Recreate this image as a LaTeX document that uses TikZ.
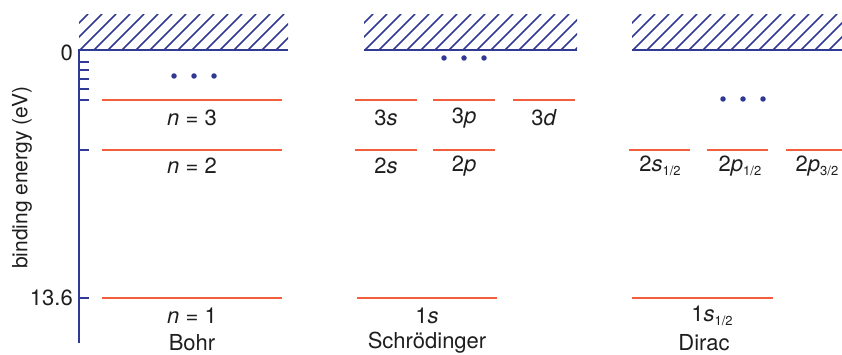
\documentclass[tikz,border=0pt]{standalone}
\usepackage{fontspec}
\setmainfont{TeX Gyre Heros}
\definecolor{axisblue}{RGB}{48,58,148}
\definecolor{levelred}{RGB}{242,94,60}
\definecolor{txt}{RGB}{30,30,30}
\newcommand\halfsub{\raisebox{-0.4ex}{\fontsize{13}{13}\selectfont 1/2}}
\newcommand\thrhalfsub{\raisebox{-0.4ex}{\fontsize{13}{13}\selectfont 3/2}}
\tikzset{
  axisline/.style={draw=axisblue, line width=2pt},
  hatchline/.style={draw=axisblue, line width=1.6pt},
  level/.style={draw=levelred, line width=2.4pt},
  lab/.style={text=txt, inner sep=0pt, font=\fontsize{22}{26}\selectfont},
  dotmark/.style={circle, fill=axisblue, inner sep=0pt, minimum size=5.5pt},
}
\begin{document}
\begin{tikzpicture}[x=1pt,y=-1pt]
\useasboundingbox (0,0) rectangle (842,355);

% hatched continua
\foreach \xa/\xb in {79/288, 364/577, 632/842}{
  \begin{scope}
    \clip (\xa,15) rectangle (\xb,50);
    \foreach \i in {-3,...,16}{
      \draw[hatchline] (\xa+\i*14,51) -- ++(37,-37);
    }
  \end{scope}
  \draw[axisline] (\xa,50) -- (\xb,50);
}

% axis
\coordinate (atop) at (79,49);
\coordinate (abot) at (79,343);
\draw[axisline] (atop) -- (abot);
\foreach \yy in {62,70,79,89,100,150,298}{
  \draw[axisline] (79,\yy) -- (89,\yy);
}
\node[lab, anchor=east] (zero) at (73,53) {0};
\node[lab, anchor=east] (e136) at (73,298) {13.6};
\node[lab, rotate=90, font=\fontsize{21}{24}\selectfont] (ylab) at (22,178) {binding energy (eV)};

% Bohr
\draw[level] (102,100) -- (282,100);
\draw[level] (102,150) -- (282,150);
\draw[level] (102,298) -- (282,298);
\node[dotmark] (bd1) at (174,76) {};
\node[dotmark] (bd2) at (194,76) {};
\node[dotmark] (bd3) at (214,76) {};
\node[lab] (bn3) at (192,118) {\textit{n} = 3};
\node[lab] (bn2) at (192,166) {\textit{n} = 2};
\node[lab] (bn1) at (192,316) {\textit{n} = 1};
\node[lab] (bohr) at (192,343) {Bohr};

% Schroedinger
\draw[level] (355,100) -- (417,100);
\draw[level] (433,100) -- (495,100);
\draw[level] (513,100) -- (575,100);
\draw[level] (355,150) -- (417,150);
\draw[level] (433,150) -- (495,150);
\draw[level] (357,298) -- (497,298);
\node[dotmark] (sd1) at (444,58) {};
\node[dotmark] (sd2) at (464,58) {};
\node[dotmark] (sd3) at (484,58) {};
\node[lab] (s3s) at (386,118) {3\textit{s}};
\node[lab] (s3p) at (464,118) {3\textit{p}};
\node[lab] (s3d) at (544,118) {3\textit{d}};
\node[lab] (s2s) at (386,166) {2\textit{s}};
\node[lab] (s2p) at (464,166) {2\textit{p}};
\node[lab] (s1s) at (427,316) {1\textit{s}};
\node[lab] (schr) at (427,343) {Schrödinger};

% Dirac
\draw[level] (629,150) -- (690,150);
\draw[level] (707,150) -- (768,150);
\draw[level] (786,150) -- (842,150);
\draw[level] (632,298) -- (773,298);
\node[dotmark] (dd1) at (723,99) {};
\node[dotmark] (dd2) at (743,99) {};
\node[dotmark] (dd3) at (763,99) {};
\node[lab] (d2s) at (660,166) {2\textit{s}\halfsub};
\node[lab] (d2p1) at (740,166) {2\textit{p}\halfsub};
\node[lab] (d2p3) at (817,166) {2\textit{p}\thrhalfsub};
\node[lab] (d1s) at (712,316) {1\textit{s}\halfsub};
\node[lab] (dirac) at (704,343) {Dirac};
\end{tikzpicture}
\end{document}
